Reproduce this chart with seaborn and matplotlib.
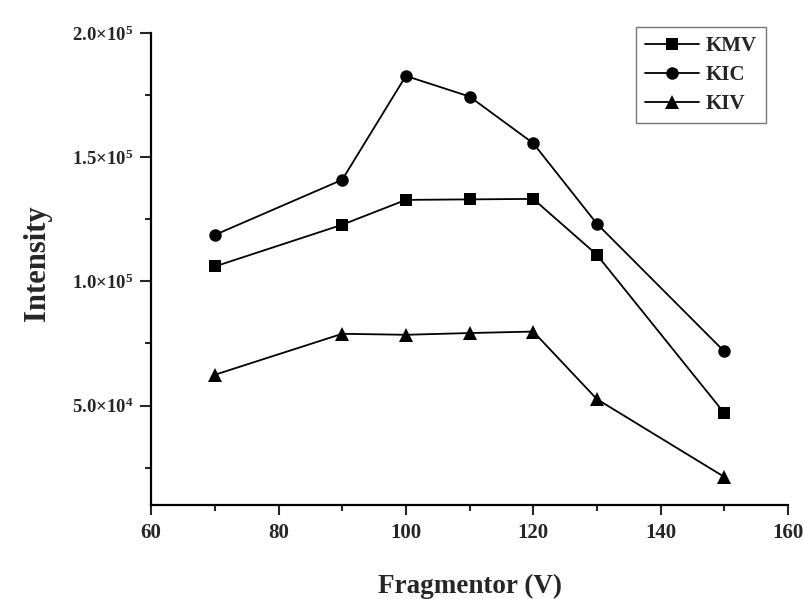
import numpy as np
import pandas as pd
import seaborn as sns
import matplotlib.pyplot as plt
from matplotlib.ticker import FixedLocator, MultipleLocator

## Data
fragmentor = [70, 90, 100, 110, 120, 130, 150]
kmv = [106000, 122800, 132800, 133000, 133200, 110700, 47000]
kic = [118700, 140900, 182700, 174400, 155600, 123200, 71800]
kiv = [62400, 78900, 78500, 79200, 79800, 52600, 21300]
series_names = ["KMV", "KIC", "KIV"]
y_ticks = [50000, 100000, 150000, 200000]
y_tick_labels = [r"$\mathbf{5.0{\times}10^{4}}$", r"$\mathbf{1.0{\times}10^{5}}$",
                 r"$\mathbf{1.5{\times}10^{5}}$", r"$\mathbf{2.0{\times}10^{5}}$"]

df = pd.DataFrame({
    "Fragmentor": fragmentor * 3,
    "Intensity": kmv + kic + kiv,
    "series": [s for s in series_names for _ in fragmentor],
})

sns.set_style("ticks")
plt.rcParams["font.family"] = ["Liberation Serif", "DejaVu Serif"]
plt.rcParams["font.weight"] = "bold"
plt.rcParams["mathtext.fontset"] = "custom"
plt.rcParams["mathtext.rm"] = "Liberation Serif:bold"
plt.rcParams["mathtext.bf"] = "Liberation Serif:bold"
plt.rcParams["mathtext.it"] = "Liberation Serif:bold"

fig = plt.figure(figsize=(8.04, 5.99), dpi=100)
ax = fig.add_axes([0.188, 0.157, 0.792, 0.788])

sns.lineplot(data=df, x="Fragmentor", y="Intensity", style="series",
             markers={"KMV": "s", "KIC": "o", "KIV": "^"}, dashes=False,
             color="black", linewidth=1.3, markersize=9, markeredgewidth=0,
             ax=ax, legend=True)

# per-marker sizes
msize = {"s": 8, "o": 9, "^": 9.5}
for line in ax.lines:
    m = line.get_marker()
    if m in msize:
        line.set_markersize(msize[m])

ax.set_xlim(60, 160)
ax.set_ylim(10000, 200000)
ax.xaxis.set_major_locator(MultipleLocator(20))
ax.xaxis.set_minor_locator(MultipleLocator(10))
ax.yaxis.set_major_locator(FixedLocator(y_ticks))
ax.yaxis.set_minor_locator(FixedLocator([25000, 75000, 125000, 175000]))
ax.set_yticklabels(y_tick_labels)

ax.tick_params(axis="x", which="major", direction="out", length=7, width=1.5,
               labelsize=15, pad=6)
ax.tick_params(axis="y", which="major", direction="out", length=8, width=1.5,
               labelsize=13.5, pad=5)
ax.tick_params(which="minor", direction="out", length=4, width=1.5)
for lab in ax.get_xticklabels():
    lab.set_fontweight("bold")

sns.despine(ax=ax)
for sp in ["left", "bottom"]:
    ax.spines[sp].set_linewidth(1.6)
    ax.spines[sp].set_color("black")

ax.set_xlabel("Fragmentor (V)", fontsize=19.5, fontweight="bold", labelpad=22)
ax.set_ylabel("Intensity", fontsize=22, fontweight="bold")
ax.yaxis.set_label_coords(-0.156, 0.513)

handles, labels = ax.get_legend_handles_labels()
leg = ax.legend(handles, labels, loc="upper right", bbox_to_anchor=(0.9655, 1.0127),
                frameon=True, fancybox=False, fontsize=15, handlelength=2.6,
                borderpad=0.45, labelspacing=0.42, handletextpad=0.3,
                borderaxespad=0)
leg.get_frame().set_edgecolor("#555555")
leg.get_frame().set_linewidth(1.0)
for t in leg.get_texts():
    t.set_fontweight("bold")

plt.savefig("out.png", dpi=100)
